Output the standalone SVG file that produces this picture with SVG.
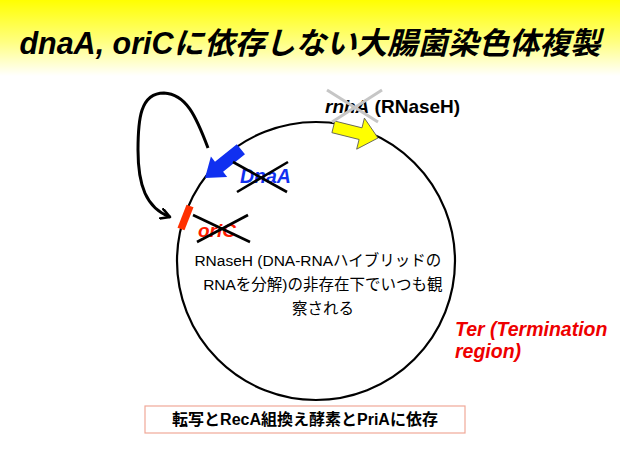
<svg xmlns="http://www.w3.org/2000/svg" width="620" height="464" viewBox="0 0 620 464">
<defs>
<linearGradient id="band" x1="0" y1="0" x2="0" y2="1">
<stop offset="0" stop-color="#ffff00"/>
<stop offset="0.55" stop-color="#ffff80"/>
<stop offset="1" stop-color="#ffffff"/>
</linearGradient>
<marker id="open" viewBox="0 0 12 12" refX="10" refY="6" markerWidth="12" markerHeight="12" markerUnits="userSpaceOnUse" orient="auto">
<path d="M1,1 L10,6 L1,11" fill="none" stroke="#000" stroke-width="2.6" stroke-linecap="round" stroke-linejoin="round"/>
</marker>
<style>
.sans{font-family:"Liberation Sans","Noto Sans CJK JP",sans-serif;}
.cross{stroke:#000;stroke-width:2.6;}
.gcross{stroke:#c6c6c6;stroke-width:3;}
</style>
</defs>
<rect x="0" y="0" width="620" height="464" fill="#fff"/>
<rect x="0" y="0" width="620" height="76" fill="url(#band)"/>
<g id="title"><text class="sans" x="310" y="54" font-size="30.5" font-weight="bold" font-style="italic" text-anchor="middle" fill="#000">dnaA, oriCに依存しない大腸菌染色体複製</text></g>

<g id="chromosome"><circle cx="316" cy="261" r="139" fill="none" stroke="#000" stroke-width="2.2"/></g>

<g id="connectors">
<path d="M208,148 C196,116 186,94 164,93 C140,93 138,120 138,150 C138,185 146,208 170,217" fill="none" stroke="#000" stroke-width="3" marker-end="url(#open)"/>
</g>

<g id="dnaA">
<polygon transform="translate(205,178) rotate(141.3)" points="0,0 -18,-13 -18,-6.5 -46,-6.5 -46,6.5 -18,6.5 -18,13" fill="#1030f0"/>
<text class="sans" x="240" y="183" font-size="19.5" font-weight="bold" font-style="italic" fill="#1030f0">DnaA</text>
<line class="cross" x1="233" y1="162" x2="287" y2="192"/>
<line class="cross" x1="237" y1="192" x2="288" y2="162"/>
</g>

<g id="oriC">
<line x1="190" y1="206" x2="181" y2="229" stroke="#ff3000" stroke-width="7.5"/>
<text class="sans" x="198" y="237" font-size="19" font-weight="bold" font-style="italic" fill="#ff1a00">oriC</text>
<line class="cross" x1="193" y1="215" x2="250" y2="242"/>
<line class="cross" x1="197" y1="242" x2="248" y2="215"/>
</g>

<g id="rnhA">
<polygon transform="translate(378,138) rotate(14)" points="0,0 -18,-16 -18,-6 -46,-6 -46,6 -18,6 -18,16" fill="#ffff00" stroke="#555" stroke-width="0.8"/>
<text class="sans" x="325" y="113" font-size="19" font-weight="bold" fill="#000"><tspan font-style="italic">rnhA</tspan> (RNaseH)</text>
<line class="gcross" x1="327" y1="90" x2="378" y2="122"/>
<line class="gcross" x1="332" y1="122" x2="382" y2="90"/>
</g>

<g id="center-note">
<text class="sans" font-size="15.5" text-anchor="middle" fill="#000">
<tspan x="320" y="266">RNaseH (DNA-RNAハイブリッドの</tspan>
<tspan x="325" y="290">RNAを分解)の非存在下でいつも観</tspan>
<tspan x="323" y="314">察される</tspan>
</text>
</g>

<g id="ter">
<text class="sans" font-size="19.5" font-weight="bold" font-style="italic" fill="#ee0000">
<tspan x="455" y="336">Ter (Termination</tspan>
<tspan x="455" y="358">region)</tspan>
</text>
</g>

<g id="requirement">
<rect x="145" y="406" width="320" height="27" fill="#fff" stroke="#f0a898" stroke-width="1.2"/>
<text class="sans" x="305" y="425" font-size="16" font-weight="bold" text-anchor="middle" fill="#000">転写とRecA組換え酵素とPriAに依存</text>
</g>
</svg>
